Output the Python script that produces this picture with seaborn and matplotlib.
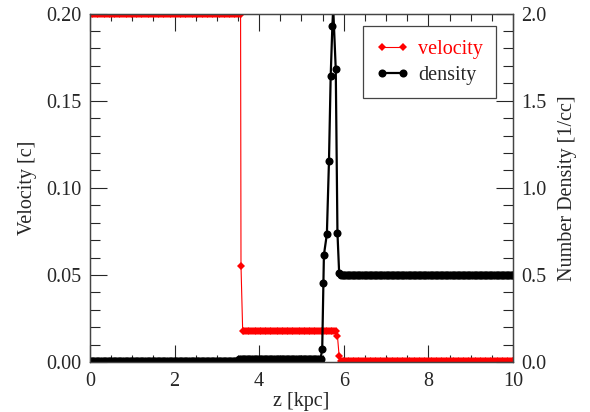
import numpy as np
import pandas as pd
import seaborn as sns
from matplotlib import pyplot as plt
from matplotlib.ticker import MultipleLocator

sns.set_style("ticks")
plt.rcParams['font.family'] = ['Liberation Serif', 'DejaVu Serif']
plt.rcParams['font.size'] = 14.5

## DATA ##
# simulation grid spacing read off the marker spacing (kpc)
dz = 0.04

# velocity: plateaus (start, end, value) plus the single points at the jumps
vel_plateaus = [(0.0, 3.55, 0.1995), (3.61, 5.81, 0.0178), (5.93, 10.0, 0.0005)]
vel_jump_z = [3.57, 5.85, 5.89]
vel_jump_v = [0.0553, 0.0150, 0.0035]

# density: plateaus plus the points through the shell
den_plateaus = [(0.0, 3.49, 0.005), (3.53, 5.45, 0.018), (5.93, 10.0, 0.50)]
den_peak_z = [5.49, 5.52, 5.53, 5.60, 5.65, 5.69, 5.73, 5.75, 5.81, 5.85, 5.89]
den_peak_n = [0.075, 0.456, 0.615, 0.735, 1.157, 1.64, 1.93, 2.03, 1.68, 0.743, 0.513]


def build(plateaus, zs, vals):
    z_all, v_all = list(zs), list(vals)
    for a, b, val in plateaus:
        pts = np.arange(a, b + dz / 2, dz)
        z_all += list(pts)
        v_all += [val] * len(pts)
    df = pd.DataFrame({'z': z_all, 'v': v_all}).sort_values('z')
    return df.reset_index(drop=True)


vel_df = build(vel_plateaus, vel_jump_z, vel_jump_v)
den_df = build(den_plateaus, den_peak_z, den_peak_n)

## PLOT ##
fig = plt.figure(figsize=(5.9, 4.12), dpi=100)
ax = fig.add_axes([0.1525, 0.121, 0.717, 0.846])
ax2 = ax.twinx()

sns.lineplot(data=vel_df, x='z', y='v', ax=ax, color='red', lw=0.8,
             marker='D', markersize=4.5, markeredgewidth=0,
             estimator=None, sort=False, label='velocity', legend=False)
sns.lineplot(data=den_df, x='z', y='v', ax=ax2, color='black', lw=1.6,
             marker='o', markersize=5.8, markeredgewidth=0,
             estimator=None, sort=False, label='density', legend=False)

ax.set_xlim(0, 10)
ax.set_ylim(0, 0.2)
ax2.set_ylim(0, 2.0)

ax.xaxis.set_major_locator(MultipleLocator(2))
ax.xaxis.set_minor_locator(MultipleLocator(0.5))
ax.yaxis.set_major_locator(MultipleLocator(0.05))
ax.yaxis.set_minor_locator(MultipleLocator(0.01))
ax.yaxis.set_major_formatter(plt.FormatStrFormatter('%.2f'))
ax2.yaxis.set_major_locator(MultipleLocator(0.5))
ax2.yaxis.set_minor_locator(MultipleLocator(0.1))
ax2.yaxis.set_major_formatter(plt.FormatStrFormatter('%.1f'))

ax.tick_params(axis='x', which='both', direction='in', top=True, bottom=True, pad=7)
ax.tick_params(axis='x', which='major', length=12, width=0.8)
ax.tick_params(axis='x', which='minor', length=5, width=0.8)
ax.tick_params(axis='y', which='both', direction='in', left=True, right=False, pad=6)
ax.tick_params(axis='y', which='major', length=12, width=0.8)
ax.tick_params(axis='y', which='minor', length=7, width=0.8)
ax2.tick_params(axis='y', which='both', direction='in', right=True, pad=6)
ax2.tick_params(axis='y', which='major', length=12, width=0.8)
ax2.tick_params(axis='y', which='minor', length=7, width=0.8)

for a in (ax, ax2):
    for s in a.spines.values():
        s.set_linewidth(0.9)
        s.set_color('#444444')

ax.set_xlabel('z [kpc]', labelpad=1)
ax.set_ylabel('Velocity [c]', labelpad=7)
ax2.set_ylabel('Number Density [1/cc]', labelpad=8)

h1, l1 = ax.get_legend_handles_labels()
h2, l2 = ax2.get_legend_handles_labels()
leg = ax2.legend(h1 + h2, l1 + l2, loc='upper right', bbox_to_anchor=(0.96, 0.963),
                 borderaxespad=0, numpoints=2, handlelength=1.65, handletextpad=0.45,
                 fancybox=False, edgecolor='#444444', framealpha=1,
                 borderpad=0.65, labelspacing=0.35)
leg.get_frame().set_linewidth(0.9)
leg.get_texts()[0].set_color('red')

fig.savefig('out.png', dpi=100)
